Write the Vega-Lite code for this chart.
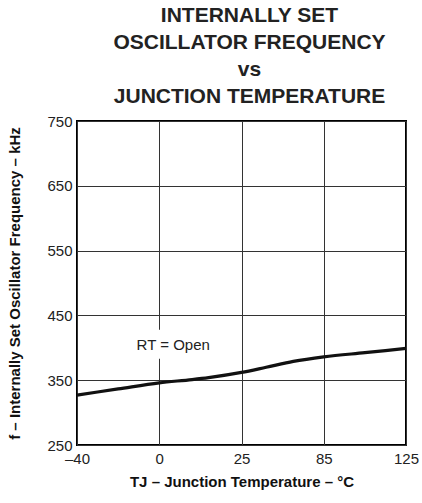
{
  "$schema": "https://vega.github.io/schema/vega-lite/v6.json",
  "width": 329,
  "height": 324,
  "autosize": {"type": "none"},
  "padding": {"left": 77, "top": 121, "right": 16, "bottom": 58},
  "background": "white",
  "config": {
    "font": "Liberation Sans",
    "view": {"stroke": "black", "strokeWidth": 2},
    "axis": {"domain": false, "ticks": false, "grid": true, "gridColor": "#333", "gridWidth": 1, "gridOpacity": 1, "labelColor": "#222", "labelFontSize": 15, "labelFont": "Liberation Sans", "titleFont": "Liberation Sans", "titleFontWeight": "bold", "titleColor": "#111", "titleFontSize": 15}
  },
  "title": {
    "text": ["INTERNALLY SET", "OSCILLATOR FREQUENCY", "vs", "JUNCTION TEMPERATURE"],
    "font": "Liberation Sans",
    "fontSize": 21,
    "fontWeight": "bold",
    "color": "#222",
    "lineHeight": 27,
    "anchor": "middle",
    "frame": "group",
    "dx": 8,
    "offset": 7
  },
  "data": {
    "values": [
      {"t": 0, "f": 327},
      {"t": 0.5, "f": 336.5},
      {"t": 1, "f": 346},
      {"t": 1.4, "f": 351},
      {"t": 1.6, "f": 354},
      {"t": 2, "f": 362},
      {"t": 2.3, "f": 370},
      {"t": 2.63, "f": 379},
      {"t": 3, "f": 386},
      {"t": 3.5, "f": 392.5},
      {"t": 4, "f": 399}
    ]
  },
  "encoding": {
    "x": {
      "field": "t", "type": "quantitative",
      "scale": {"domain": [0, 4], "nice": false, "zero": false},
      "axis": {
        "values": [0, 1, 2, 3, 4],
        "labelExpr": "['\u201340','0','25','85','125'][datum.value]",
        "labelPadding": 6,
        "labelDx": 5,
        "labelFlush": false,
        "title": "TJ \u2013 Junction Temperature \u2013 \u00b0C",
        "titlePadding": 8
      }
    },
    "y": {
      "field": "f", "type": "quantitative",
      "scale": {"domain": [250, 750], "nice": false, "zero": false},
      "axis": {
        "values": [250, 350, 450, 550, 650, 750],
        "labelPadding": 5,
        "labelFlush": false,
        "title": "f \u2013 Internally Set Oscillator Frequency \u2013 kHz",
        "titlePadding": 24
      }
    }
  },
  "layer": [
    {
      "transform": [{"filter": "datum.t == 0"}],
      "mark": {"type": "rect", "fill": "white"},
      "encoding": {
        "x": {"datum": 0.7, "type": "quantitative"},
        "x2": {"datum": 1.62},
        "y": {"datum": 383, "type": "quantitative"},
        "y2": {"datum": 428}
      }
    },
    {
      "transform": [{"filter": "datum.t == 0"}],
      "mark": {"type": "text", "text": "RT = Open", "fontSize": 15, "font": "Liberation Sans", "color": "#222"},
      "encoding": {
        "x": {"datum": 1.17, "type": "quantitative"},
        "y": {"datum": 405, "type": "quantitative"}
      }
    },
    {
      "mark": {"type": "line", "color": "#111", "strokeWidth": 3.2, "interpolate": "monotone"}
    }
  ]
}
